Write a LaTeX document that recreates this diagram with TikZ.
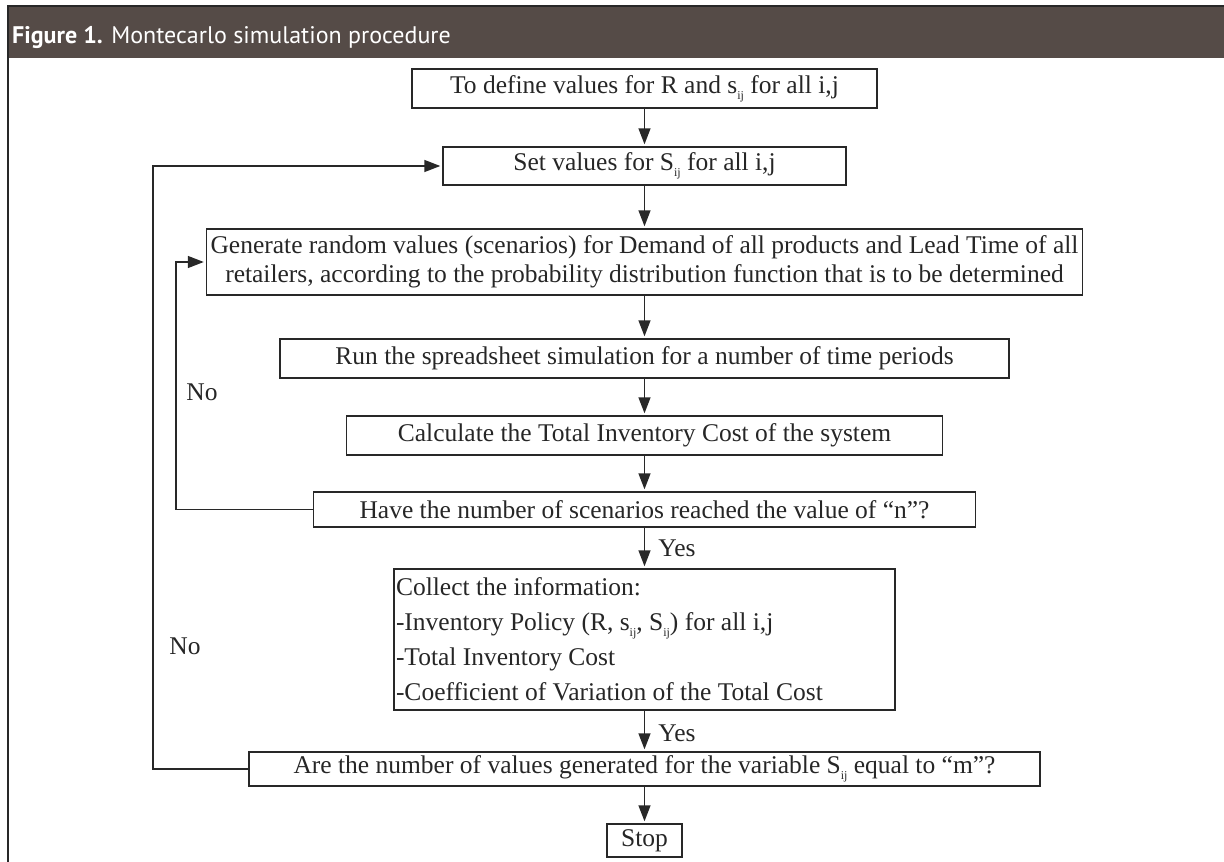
\documentclass[tikz,border=0pt]{standalone}
\usepackage{fontspec}
\setmainfont{Liberation Serif}
\newfontfamily\headfont{PT Sans}
\usetikzlibrary{arrows.meta}
\definecolor{bandcol}{RGB}{85,75,71}
\definecolor{linecol}{RGB}{40,40,40}
\newcommand\ijsub{\raisebox{-0.5ex}{\fontsize{12bp}{12bp}\selectfont ij}}
\tikzset{
  flowbox/.style={draw=linecol, line width=1.4bp, inner sep=2bp, align=center,
    font=\fontsize{25.5bp}{29bp}\selectfont, text=black!85},
  flowarrow/.style={draw=linecol, line width=1.4bp, -{Triangle[length=16bp,width=12bp]}, shorten >=2bp},
  flowline/.style={draw=linecol, line width=1.4bp},
  lbl/.style={font=\fontsize{25.5bp}{29bp}\selectfont, text=black!85, inner sep=0pt}
}
\begin{document}
\begin{tikzpicture}[x=1bp,y=-1bp]
\useasboundingbox (0,0) rectangle (1224,862);
% header band and frame
\fill[bandcol] (8,6) rectangle (1224,58);
\draw[linecol, line width=2bp] (8,862) -- (8,6) -- (1224,6);
\node[anchor=base west, text=white, inner sep=0pt, font=\headfont\fontsize{24bp}{28bp}\selectfont] (title) at (12,43) {\textbf{Figure 1.} Montecarlo simulation procedure};
% boxes
\node[flowbox, minimum width=465bp, minimum height=39bp] (b1) at (644.5,88.5) {To define values for R and s\ijsub{} for all i,j};
\node[flowbox, minimum width=403bp, minimum height=38bp] (b2) at (644.5,166) {Set values for S\ijsub{} for all i,j};
\node[flowbox, minimum width=876bp, minimum height=66bp] (b3) at (644.5,262) {Generate random values (scenarios) for Demand of all products and Lead Time of all\\retailers, according to the probability distribution function that is to be determined};
\node[flowbox, minimum width=729bp, minimum height=39bp] (b4) at (644.5,358.5) {Run the spreadsheet simulation for a number of time periods};
\node[flowbox, minimum width=596bp, minimum height=39bp] (b5) at (644.5,435.5) {Calculate the Total Inventory Cost of the system};
\node[flowbox, minimum width=662bp, minimum height=35bp] (b6) at (644.5,509.5) {Have the number of scenarios reached the value of “n”?};
\node[flowbox, minimum width=501bp, minimum height=141bp, text width=497bp, align=flush left, font=\fontsize{25.5bp}{35bp}\selectfont] (b7) at (644.5,639.5) {Collect the information:\\-Inventory Policy (R, s\ijsub, S\ijsub) for all i,j\\-Total Inventory Cost\\-Coefficient of Variation of the Total Cost};
\node[flowbox, minimum width=791bp, minimum height=34bp] (b8) at (644.5,769) {Are the number of values generated for the variable S\ijsub{} equal to “m”?};
\node[flowbox, minimum width=75bp, minimum height=33bp] (b9) at (644.5,840.5) {Stop};
% loop corners
\coordinate (c1) at (176,509.5);
\coordinate (c2) at (176,262);
\coordinate (c3) at (153,769);
\coordinate (c4) at (153,166);
% connectors
\draw[flowarrow] (b1) -- (b2);
\draw[flowarrow] (b2) -- (b3);
\draw[flowarrow] (b3) -- (b4);
\draw[flowarrow] (b4) -- (b5);
\draw[flowarrow] (b5) -- (b6);
\draw[flowarrow] (b6) -- (b7);
\draw[flowarrow] (b7) -- (b8);
\draw[flowarrow] (b8) -- (b9);
\draw[flowarrow] (b6.west) -- (c1) -- (c2) -- (b3.west);
\draw[flowarrow] (b8.west) -- (c3) -- (c4) -- (b2.west);
% labels
\node[lbl] (no1) at (202,392) {No};
\node[lbl] (no2) at (185,646) {No};
\node[lbl] (yes1) at (677,548) {Yes};
\node[lbl] (yes2) at (677,733) {Yes};
\end{tikzpicture}
\end{document}
